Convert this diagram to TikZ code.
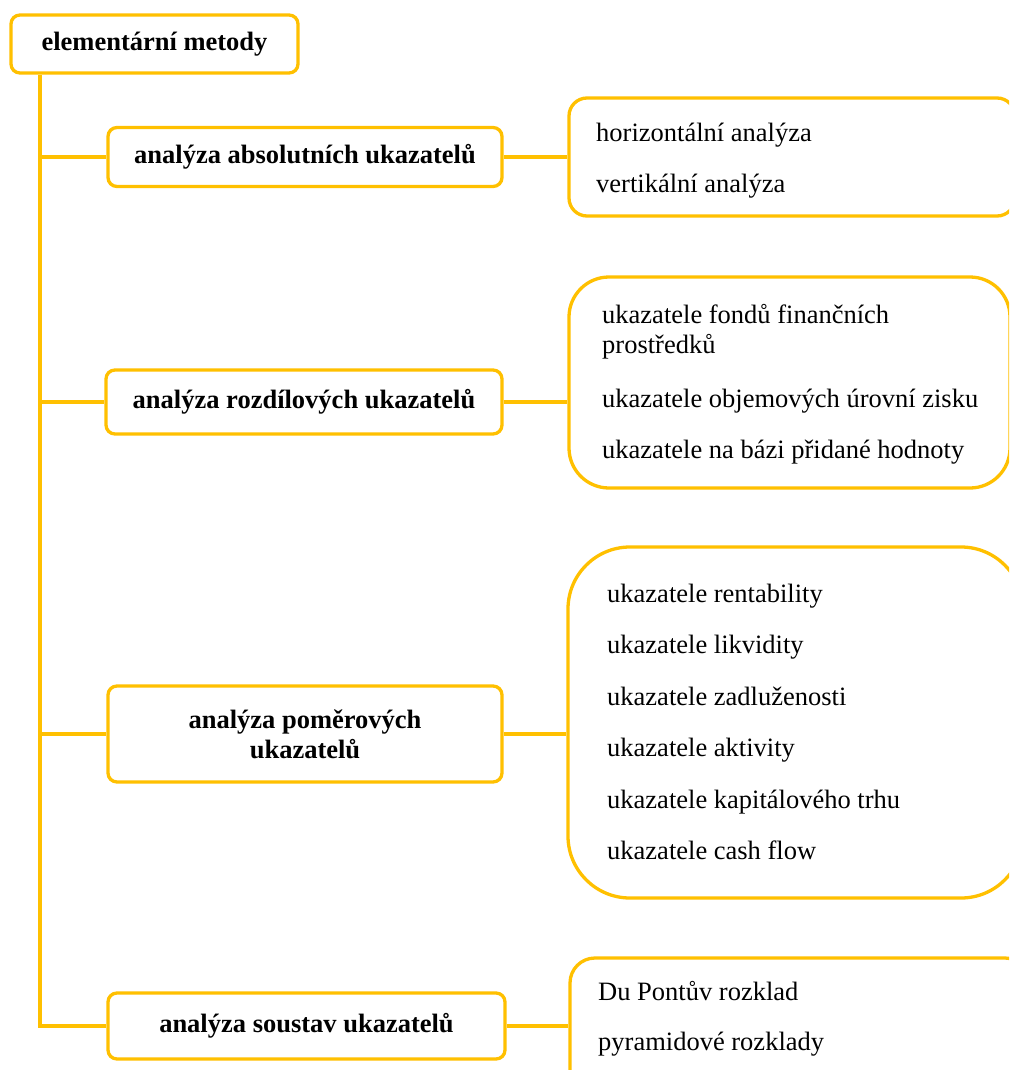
\documentclass[tikz,border=0pt]{standalone}
\usepackage{fontspec}
\setmainfont{Liberation Serif}
\definecolor{gold}{HTML}{FFC000}
\begin{document}
\begin{tikzpicture}[x=1pt,y=-1pt,
  lbox/.style={draw=gold, line width=3.3pt, rounded corners=9pt, fill=white,
    font=\fontsize{26.5}{30}\selectfont\bfseries, align=center, inner sep=0pt},
  rbox/.style={draw=gold, line width=3.3pt, fill=white, inner sep=0pt},
  item/.style={anchor=base west, inner sep=0pt, font=\fontsize{26.5}{30}\selectfont},
  link/.style={draw=gold, line width=3.3pt}]
\useasboundingbox (0,0) rectangle (1009,1070);
\clip (0,0) rectangle (1009,1070);
\fill[white] (0,0) rectangle (1009,1070);

% left column boxes
\node[lbox, minimum width=287pt, minimum height=58pt] (top) at (154.5,44) {elementární metody};
\node[lbox, minimum width=394pt, minimum height=59pt] (A) at (305,157) {analýza absolutních ukazatelů};
\node[lbox, minimum width=396pt, minimum height=64pt] (B) at (304,402) {analýza rozdílových ukazatelů};
\node[lbox, minimum width=394pt, minimum height=96pt] (C) at (305,734) {analýza poměrových\\ukazatelů};
\node[lbox, minimum width=397pt, minimum height=66pt] (D) at (306.5,1026) {analýza soustav ukazatelů};

% right boxes
\node[rbox, rounded corners=18pt, minimum width=446pt, minimum height=118pt] (R1) at (792,157) {};
\node[rbox, rounded corners=40pt, minimum width=441pt, minimum height=211pt] (R2) at (789.5,382.5) {};
\node[rbox, rounded corners=62pt, minimum width=455pt, minimum height=351pt] (R3) at (795.5,722.5) {};
\node[rbox, rounded corners=25pt, minimum width=460pt, minimum height=142pt] (R4) at (800,1029) {};

% items
\node[item] (r1a) at (596,142) {horizontální analýza};
\node[item] (r1b) at (596,192) {vertikální analýza};

\node[item] (r2a) at (602,323) {ukazatele fondů finančních};
\node[item] (r2b) at (602,353) {prostředků};
\node[item] (r2c) at (602,407) {ukazatele objemových úrovní zisku};
\node[item] (r2d) at (602,458) {ukazatele na bázi přidané hodnoty};

\node[item] (r3a) at (607,602) {ukazatele rentability};
\node[item] (r3b) at (607,653.5) {ukazatele likvidity};
\node[item] (r3c) at (607,705) {ukazatele zadluženosti};
\node[item] (r3d) at (607,756.5) {ukazatele aktivity};
\node[item] (r3e) at (607,808) {ukazatele kapitálového trhu};
\node[item] (r3f) at (607,859.5) {ukazatele cash flow};

\node[item] (r4a) at (598,1000) {Du Pontův rozklad};
\node[item] (r4b) at (598,1050) {pyramidové rozklady};

% connectors
\coordinate (tk) at (40,0);
\draw[link] (top.south -| tk) -- (D.west -| tk) -- (D.west);
\draw[link] (A.west -| tk) -- (A.west);
\draw[link] (B.west -| tk) -- (B.west);
\draw[link] (C.west -| tk) -- (C.west);
\draw[link] (A.east) -- (A.east -| R1.west);
\draw[link] (B.east) -- (B.east -| R2.west);
\draw[link] (C.east) -- (C.east -| R3.west);
\draw[link] (D.east) -- (D.east -| R4.west);
\end{tikzpicture}
\end{document}
